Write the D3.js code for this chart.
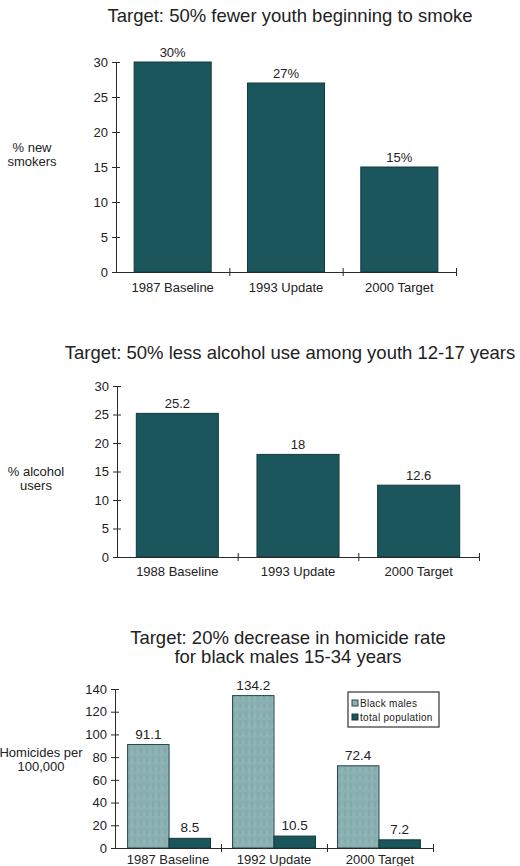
<!DOCTYPE html>
<html><head><meta charset="utf-8">
<script src="https://cdn.jsdelivr.net/npm/d3@7"></script>
<style>
body{margin:0;background:#fff}
svg text{font-family:Arial,"Liberation Sans",Helvetica,sans-serif;fill:#222}
</style>
</head><body>
<svg id="c" width="520" height="866"></svg>
<script>
// ---- Data ----
const smokeTitle = ["Target: 50% fewer youth beginning to smoke"];
const smokeYLabel = ["% new", "smokers"];
const smokeCategories = ["1987 Baseline", "1993 Update", "2000 Target"];
const smokeValues = [30, 27, 15];
const smokeValueLabels = ["30%", "27%", "15%"];
const smokeTicks = [0, 5, 10, 15, 20, 25, 30];

const alcoholTitle = ["Target: 50% less alcohol use among youth 12-17 years"];
const alcoholYLabel = ["% alcohol", "users"];
const alcoholCategories = ["1988 Baseline", "1993 Update", "2000 Target"];
const alcoholValues = [25.2, 18, 12.6];
const alcoholValueLabels = ["25.2", "18", "12.6"];
const alcoholTicks = [0, 5, 10, 15, 20, 25, 30];

const homicideTitle = ["Target: 20% decrease in homicide rate", "for black males 15-34 years"];
const homicideYLabel = ["Homicides per", "100,000"];
const homicideCategories = ["1987 Baseline", "1992 Update", "2000 Target"];
const homicideSeries = ["Black males", "total population"];
const blackMalesValues = [91.1, 134.2, 72.4];
const totalPopValues = [8.5, 10.5, 7.2];
const homicideTicks = [0, 20, 40, 60, 80, 100, 120, 140];

// ---- Styles ----
const DARK = "#1a565c", DARK_STROKE = "#12393d";
const LIGHT = "#8bb0b2", LIGHT_STROKE = "#24484c";
const AXIS = "#2a2a2a";
const FONT = 'Arial,"Liberation Sans",Helvetica,sans-serif';

const svg = d3.select("#c");

// subtle stipple pattern for the light bars
const defs = svg.append("defs");
const pat = defs.append("pattern").attr("id", "stip").attr("patternUnits", "userSpaceOnUse")
  .attr("width", 6).attr("height", 9);
pat.append("rect").attr("width", 6).attr("height", 9).attr("fill", LIGHT);
pat.append("rect").attr("x", 1).attr("y", 0).attr("width", 1).attr("height", 6).attr("fill", "#7fa4a7");
pat.append("rect").attr("x", 4).attr("y", 3).attr("width", 1).attr("height", 5).attr("fill", "#97babb");

function drawTitle(lines, cx, y0, lh) {
  svg.append("g").selectAll("text").data(lines).join("text")
    .attr("x", cx).attr("y", (d, i) => y0 + i * lh)
    .attr("text-anchor", "middle").style("font-size", "18.5px").text(d => d);
}

function drawYLabel(lines, cx, y0) {
  svg.append("g").selectAll("text").data(lines).join("text")
    .attr("x", cx).attr("y", (d, i) => y0 + i * 14)
    .attr("text-anchor", "middle").style("font-size", "13px").text(d => d);
}

function drawAxes(xr, y, ticks, categories, labelY) {
  const g = svg.append("g").attr("color", AXIS);
  // y axis
  const ya = g.append("g").attr("transform", `translate(${xr[0]},0)`)
    .call(d3.axisLeft(y).tickValues(ticks).tickSizeInner(4).tickSizeOuter(0).tickPadding(4));
  ya.attr("font-family", FONT).attr("font-size", 13);
  ya.selectAll(".tick line").attr("x1", 4);
  // x axis with ticks at category boundaries
  const xb = d3.scaleLinear().domain([0, categories.length]).range(xr);
  const xa = g.append("g").attr("transform", `translate(0,${y.range()[0]})`)
    .call(d3.axisBottom(xb).tickValues(d3.range(1, categories.length + 1)).tickFormat("").tickSizeInner(4).tickSizeOuter(0));
  xa.selectAll(".tick line").attr("y1", -4);
  // category labels
  const xc = d3.scaleBand().domain(categories).range(xr);
  svg.append("g").selectAll("text").data(categories).join("text")
    .attr("x", d => xc(d) + xc.bandwidth() / 2).attr("y", labelY)
    .attr("text-anchor", "middle").style("font-size", "13px").text(d => d);
}

function simpleChart(o) {
  const x = d3.scaleBand().domain(o.categories).range(o.xr).paddingInner(0.32).paddingOuter(0.16);
  const y = d3.scaleLinear().domain([0, 30]).range(o.yr);
  drawTitle(o.title, o.titleX, o.titleY, 19);
  drawYLabel(o.ylabel, o.ylabelX, o.ylabelY);
  svg.append("g").selectAll("rect").data(o.values).join("rect")
    .attr("x", (d, i) => x(o.categories[i]))
    .attr("y", d => y(d))
    .attr("width", x.bandwidth())
    .attr("height", d => y(0) - y(d))
    .attr("fill", DARK).attr("stroke", DARK_STROKE).attr("stroke-width", 1);
  svg.append("g").selectAll("text").data(o.values).join("text")
    .attr("x", (d, i) => x(o.categories[i]) + x.bandwidth() / 2)
    .attr("y", d => y(d) - 5)
    .attr("text-anchor", "middle").style("font-size", "13px")
    .text((d, i) => o.valueLabels[i]);
  drawAxes(o.xr, y, o.ticks, o.categories, o.labelY);
}

simpleChart({
  title: smokeTitle, titleX: 290, titleY: 22,
  ylabel: smokeYLabel, ylabelX: 32, ylabelY: 152,
  categories: smokeCategories, values: smokeValues, valueLabels: smokeValueLabels,
  ticks: smokeTicks, xr: [116, 456], yr: [272, 62], labelY: 292
});

simpleChart({
  title: alcoholTitle, titleX: 290, titleY: 359,
  ylabel: alcoholYLabel, ylabelX: 36, ylabelY: 476,
  categories: alcoholCategories, values: alcoholValues, valueLabels: alcoholValueLabels,
  ticks: alcoholTicks, xr: [117, 479], yr: [557, 386], labelY: 576
});

// ---- Homicide grouped chart ----
(function () {
  const xr = [115, 433], yr = [848, 689];
  const x0 = d3.scaleBand().domain(homicideCategories).range(xr).paddingInner(0.21).paddingOuter(0.12);
  const x1 = d3.scaleBand().domain(homicideSeries).range([0, x0.bandwidth()]);
  const y = d3.scaleLinear().domain([0, 140]).range(yr);
  drawTitle(homicideTitle, 288, 644, 19);
  drawYLabel(homicideYLabel, 41, 757);

  const rows = homicideCategories.map((c, i) => ({
    c, vals: [{ s: homicideSeries[0], v: blackMalesValues[i] }, { s: homicideSeries[1], v: totalPopValues[i] }]
  }));
  const grp = svg.append("g").selectAll("g").data(rows).join("g")
    .attr("transform", d => `translate(${x0(d.c)},0)`);
  grp.selectAll("rect").data(d => d.vals).join("rect")
    .attr("x", d => x1(d.s)).attr("y", d => y(d.v))
    .attr("width", x1.bandwidth()).attr("height", d => y(0) - y(d.v))
    .attr("fill", (d, i) => i === 0 ? "url(#stip)" : DARK)
    .attr("stroke", (d, i) => i === 0 ? LIGHT_STROKE : DARK_STROKE).attr("stroke-width", 1);
  grp.selectAll("text").data(d => d.vals).join("text")
    .attr("x", d => x1(d.s) + x1.bandwidth() / 2).attr("y", d => y(d.v) - 6)
    .attr("text-anchor", "middle").style("font-size", "13.5px").text(d => d.v);

  drawAxes(xr, y, homicideTicks, homicideCategories, 864);

  // legend
  const lg = svg.append("g").attr("transform", "translate(348,692)");
  lg.append("rect").attr("width", 91).attr("height", 35).attr("fill", "#fff")
    .attr("stroke", "#333").attr("stroke-width", 1.2);
  const it = lg.selectAll("g").data(homicideSeries).join("g")
    .attr("transform", (d, i) => `translate(4,${8 + i * 14})`);
  it.append("rect").attr("width", 6).attr("height", 6)
    .attr("fill", (d, i) => i === 0 ? LIGHT : DARK)
    .attr("stroke", (d, i) => i === 0 ? LIGHT_STROKE : DARK_STROKE).attr("stroke-width", 1);
  it.append("text").attr("x", 8).attr("y", 6.5)
    .style("font-size", "10px").style("letter-spacing", "0.3px").text(d => d);
})();
</script>
</body></html>
